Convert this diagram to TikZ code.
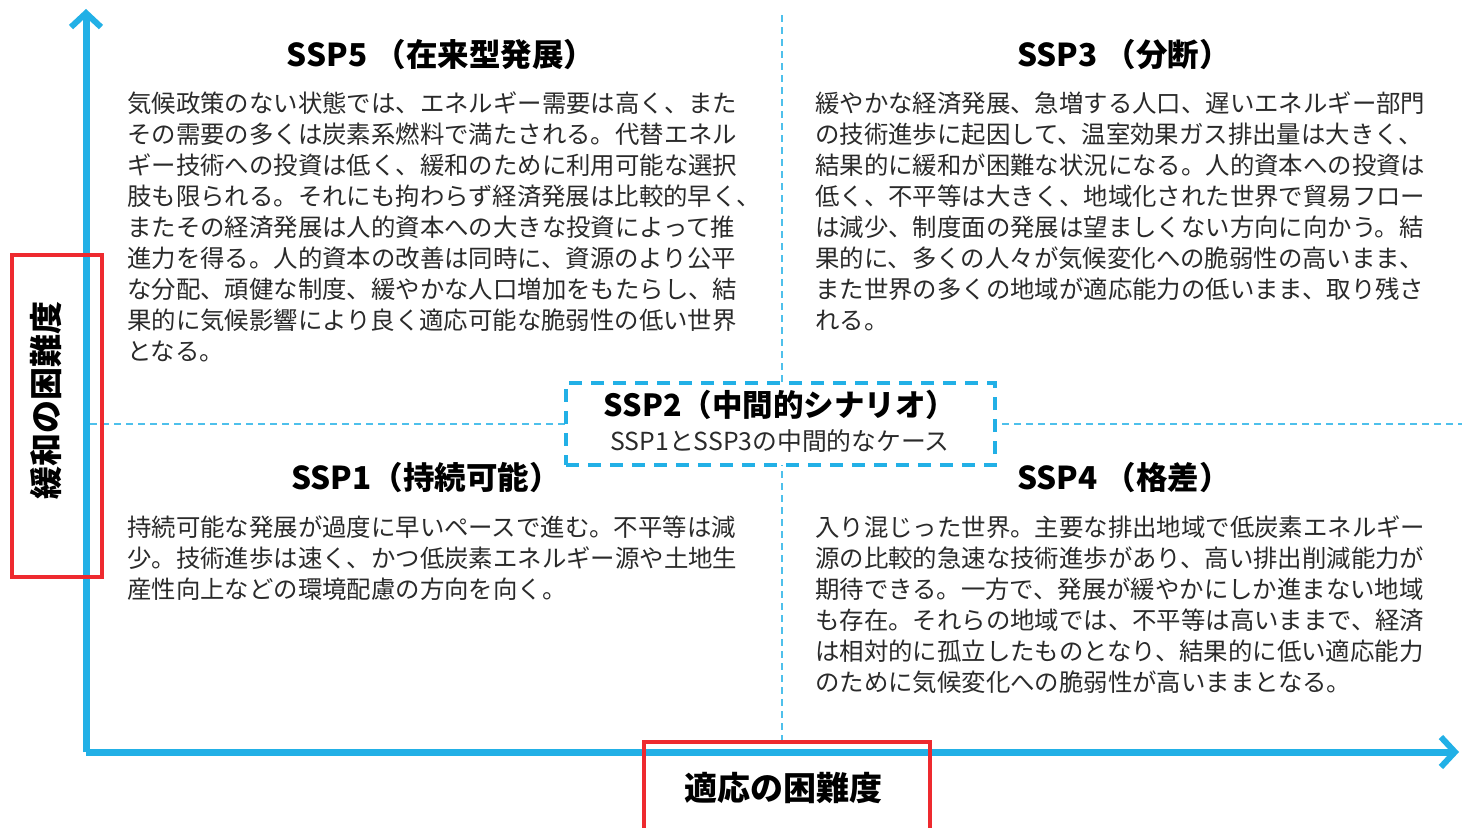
\documentclass[tikz,border=0pt]{standalone}
\usepackage{fontspec}
\setmainfont{Noto Sans CJK JP}
\usetikzlibrary{arrows.meta}
\definecolor{axisblue}{HTML}{22B0E6}
\definecolor{boxred}{HTML}{EE2A2F}
\definecolor{bodytext}{HTML}{2A2A2A}
\tikzset{
  axisline/.style={draw=axisblue, line width=7pt, -{Straight Barb[length=14pt,width=30pt,line width=6pt]}},
  divider/.style={draw=axisblue!80, line width=1.3pt, dash pattern=on 7pt off 5pt},
  midbox/.style={draw=axisblue, line width=3.5pt, dash pattern=on 13pt off 9pt, fill=white},
  redbox/.style={draw=boxred, line width=4pt},
  titletext/.style={inner sep=0pt, anchor=center, font=\fontsize{31.5}{36}\selectfont\bfseries, text=black},
  bodyblock/.style={inner sep=0pt, anchor=north west, align=left, font=\fontsize{24.4}{31}\selectfont, text=bodytext},
  axislabel/.style={inner sep=0pt, font=\fontsize{33}{36}\selectfont\bfseries, text=black}
}
\begin{document}
\begin{tikzpicture}[x=1pt,y=-1pt]
\useasboundingbox (0,0) rectangle (1469,827);
\fill[white] (0,0) rectangle (1469,827);

% coordinates
\coordinate (origin) at (86,752);
\coordinate (ytip) at (86,9);
\coordinate (xtip) at (1459,752);
\coordinate (vtop) at (782,15);
\coordinate (vbot) at (782,745);
\coordinate (hleft) at (90,424);
\coordinate (hright) at (1462,424);

% dividers
\draw[divider] (vtop) -- (vbot);
\draw[divider] (hleft) -- (hright);

% SSP2 box
\node[midbox, minimum width=429pt, minimum height=82pt, inner sep=0pt] (ssp2box) at (780.5,424) {};
\node[titletext, font=\fontsize{30.5}{34}\selectfont\bfseries] (ssp2title) at (780,405) {SSP2（中間的シナリオ）};
\node[inner sep=0pt, font=\fontsize{24.8}{28}\selectfont, text=bodytext] (ssp2sub) at (780,441) {SSP1とSSP3の中間的なケース};

% axes
\draw[axisline] (origin) -- (ytip);
\draw[axisline] (origin) -- (xtip);

% titles
\node[titletext] (ssp5title) at (441,55) {SSP5 （在来型発展）};
\node[titletext] (ssp3title) at (1124,55) {SSP3 （分断）};
\node[titletext] (ssp1title) at (426,478) {SSP1（持続可能）};
\node[titletext] (ssp4title) at (1124,478) {SSP4 （格差）};

% bodies
\node[bodyblock] (ssp5body) at (127,92) {気候政策のない状態では、エネルギー需要は高く、また\\
その需要の多くは炭素系燃料で満たされる。代替エネル\\
ギー技術への投資は低く、緩和のために利用可能な選択\\
肢も限られる。それにも拘わらず経済発展は比較的早く、\\
またその経済発展は人的資本への大きな投資によって推\\
進力を得る。人的資本の改善は同時に、資源のより公平\\
な分配、頑健な制度、緩やかな人口増加をもたらし、結\\
果的に気候影響により良く適応可能な脆弱性の低い世界\\
となる。};

\node[bodyblock] (ssp3body) at (815,92) {緩やかな経済発展、急増する人口、遅いエネルギー部門\\
の技術進歩に起因して、温室効果ガス排出量は大きく、\\
結果的に緩和が困難な状況になる。人的資本への投資は\\
低く、不平等は大きく、地域化された世界で貿易フロー\\
は減少、制度面の発展は望ましくない方向に向かう。結\\
果的に、多くの人々が気候変化への脆弱性の高いまま、\\
また世界の多くの地域が適応能力の低いまま、取り残さ\\
れる。};

\node[bodyblock] (ssp1body) at (127,516) {持続可能な発展が過度に早いペースで進む。不平等は減\\
少。技術進歩は速く、かつ低炭素エネルギー源や土地生\\
産性向上などの環境配慮の方向を向く。};

\node[bodyblock] (ssp4body) at (815,516) {入り混じった世界。主要な排出地域で低炭素エネルギー\\
源の比較的急速な技術進歩があり、高い排出削減能力が\\
期待できる。一方で、発展が緩やかにしか進まない地域\\
も存在。それらの地域では、不平等は高いままで、経済\\
は相対的に孤立したものとなり、結果的に低い適応能力\\
のために気候変化への脆弱性が高いままとなる。};

% axis labels
\node[axislabel, rotate=90] (ylabel) at (46,400) {緩和の困難度};
\node[axislabel] (xlabel) at (783,788) {適応の困難度};

% red highlight boxes
\draw[redbox] (12,255) rectangle (102,577);
\draw[redbox] (644,742) rectangle (930,835);
\end{tikzpicture}
\end{document}
